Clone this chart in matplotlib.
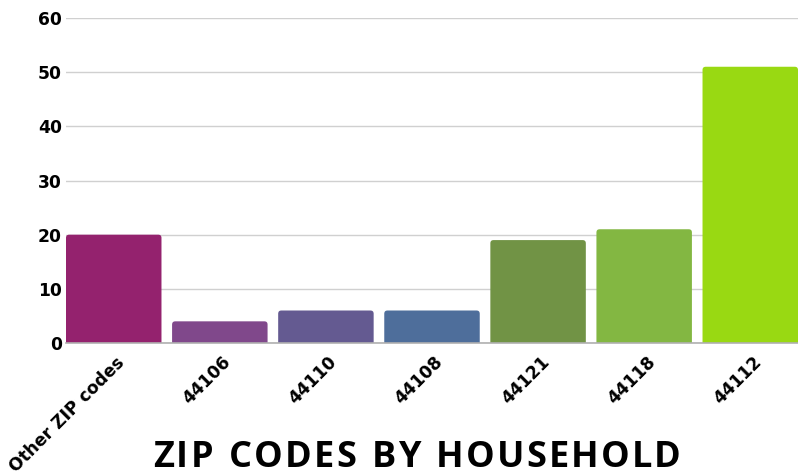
import matplotlib

matplotlib.use("Agg")
import matplotlib.pyplot as plt
from matplotlib.patches import FancyBboxPatch
from matplotlib.transforms import ScaledTranslation
from matplotlib.font_manager import FontProperties

categories = ["Other ZIP codes", "44106", "44110", "44108", "44121", "44118", "44112"]
households = [20, 4, 6, 6, 19, 21, 51]
colors = ["#94226e", "#80488b", "#645a91", "#4e6e9b", "#719345", "#83b742", "#99d912"]
y_ticks = [0, 10, 20, 30, 40, 50, 60]
title = "ZIP CODES BY HOUSEHOLD"

W, H = 798, 472
fig = plt.figure(figsize=(W / 100, H / 100), dpi=100)
ax = fig.add_axes([66 / W, 1 - 343 / H, 1 - 66 / W, (343 - 18) / H])

x = list(range(len(categories)))
bars = ax.bar(x, households, width=0.9, color=colors)

ax.set_xlim(-0.45, len(categories) - 0.55)
ax.set_ylim(0, 60)

# rounded tops: swap each bar for a rounded box that dips below zero (clipped)
px_x = ax.get_position().width * W / (ax.get_xlim()[1] - ax.get_xlim()[0])
px_y = ax.get_position().height * H / 60
aspect = px_x / px_y
r = 0.03
for b in bars:
    b.set_visible(False)
    lift = r * aspect
    patch = FancyBboxPatch((b.get_x(), -lift * 2), b.get_width(), b.get_height() + lift * 2,
                           boxstyle=f"round,pad=0,rounding_size={r}",
                           mutation_aspect=aspect, facecolor=b.get_facecolor(),
                           edgecolor="none", zorder=2)
    ax.add_patch(patch)

ax.set_yticks(y_ticks)
ax.yaxis.grid(True, color="#d0d0d0", linewidth=1.0)
ax.set_axisbelow(True)
for side in ["top", "right", "left"]:
    ax.spines[side].set_visible(False)
ax.spines["bottom"].set_color("#b0b0b0")
ax.spines["bottom"].set_linewidth(1.2)
ax.spines["bottom"].set_zorder(3)

tick_font = {"family": "DejaVu Sans", "weight": "bold", "size": 12.3}
ax.tick_params(axis="y", length=0, pad=3)
ax.tick_params(axis="x", length=0, pad=12)
ax.set_yticklabels([str(v) for v in y_ticks], fontdict=tick_font)

ax.set_xticks(x)
ax.set_xticklabels(categories, rotation=45, ha="right", va="center",
                   rotation_mode="anchor", fontdict=tick_font)
offset = ScaledTranslation(6 / 72, 0, fig.dpi_scale_trans)
for lbl in ax.get_xticklabels():
    lbl.set_transform(lbl.get_transform() + offset)

# title with a little letter spacing, laid out char by char
prop = FontProperties(family="Open Sans", weight="bold", size=26)
renderer = fig.canvas.get_renderer()
widths = []
for ch in title:
    w, _, _ = renderer.get_text_width_height_descent(ch if ch != " " else "i", prop, ismath=False)
    widths.append(w)
spacing = 2.2
total = sum(widths) + spacing * (len(title) - 1)
cx = 417
xpos = cx - total / 2
for ch, w in zip(title, widths):
    if ch != " ":
        fig.text(xpos / W, 1 - 467 / H, ch, ha="left", va="baseline", fontproperties=prop)
    xpos += w + spacing

fig.savefig("out.png", dpi=100)
